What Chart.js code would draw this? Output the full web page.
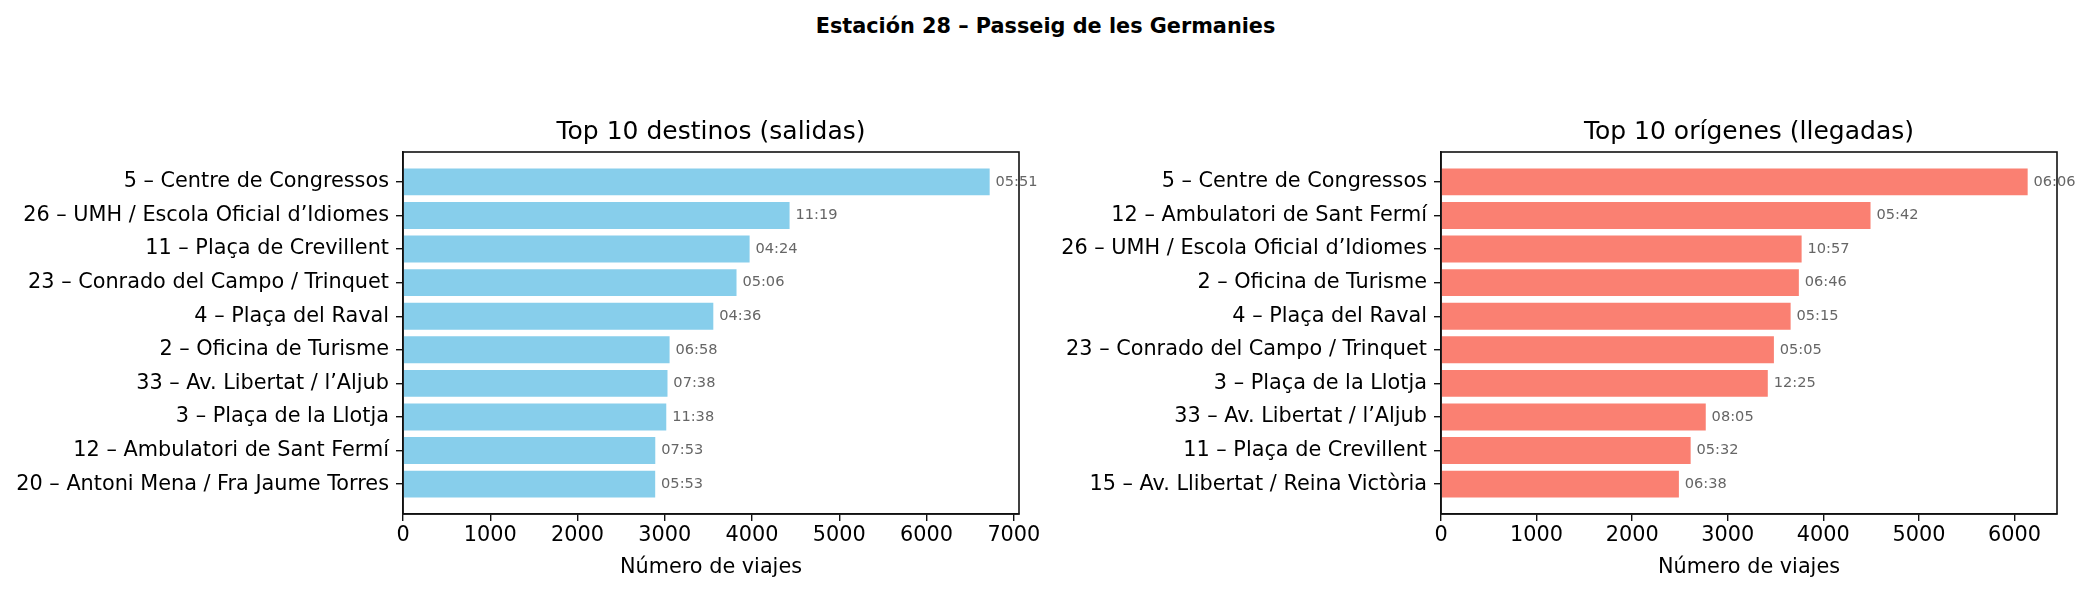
<!DOCTYPE html>
<html>
<head>
<meta charset="utf-8">
<script src="https://cdn.jsdelivr.net/npm/chart.js@4.4.1/dist/chart.umd.min.js"></script>
<style>
  body { margin: 0; background: #fff; }
  #wrap { position: relative; width: 2091px; height: 594px; overflow: hidden; }
  #suptitle { position: absolute; left: 0; width: 2091px; top: 14px; text-align: center;
    font: bold 20.8px 'DejaVu Sans'; color: #000; }
  canvas { position: absolute; top: 0; }
</style>
</head>
<body>
<div id="wrap">
  <div id="suptitle">Estación 28 – Passeig de les Germanies</div>
  <canvas id="leftChart" width="1045" height="594" style="left:0"></canvas>
  <canvas id="rightChart" width="1046" height="594" style="left:1045px"></canvas>
</div>
<script>
/* ── Data ── */
const destLabels = [
  '5 – Centre de Congressos',
  '26 – UMH / Escola Oficial d’Idiomes',
  '11 – Plaça de Crevillent',
  '23 – Conrado del Campo / Trinquet',
  '4 – Plaça del Raval',
  '2 – Oficina de Turisme',
  '33 – Av. Libertat / l’Aljub',
  '3 – Plaça de la Llotja',
  '12 – Ambulatori de Sant Fermí',
  '20 – Antoni Mena / Fra Jaume Torres'
];
const destTrips = [6723, 4430, 3972, 3822, 3556, 3055, 3031, 3017, 2891, 2890];
const destTimes = ['05:51', '11:19', '04:24', '05:06', '04:36', '06:58', '07:38', '11:38', '07:53', '05:53'];
const destTicks = [0, 1000, 2000, 3000, 4000, 5000, 6000, 7000];

const origLabels = [
  '5 – Centre de Congressos',
  '12 – Ambulatori de Sant Fermí',
  '26 – UMH / Escola Oficial d’Idiomes',
  '2 – Oficina de Turisme',
  '4 – Plaça del Raval',
  '23 – Conrado del Campo / Trinquet',
  '3 – Plaça de la Llotja',
  '33 – Av. Libertat / l’Aljub',
  '11 – Plaça de Crevillent',
  '15 – Av. Llibertat / Reina Victòria'
];
const origTrips = [6138, 4494, 3773, 3744, 3658, 3483, 3419, 2770, 2612, 2489];
const origTimes = ['06:06', '05:42', '10:57', '06:46', '05:15', '05:05', '12:25', '08:05', '05:32', '06:38'];
const origTicks = [0, 1000, 2000, 3000, 4000, 5000, 6000];

Chart.defaults.font.family = 'DejaVu Sans';
Chart.defaults.color = '#000';

/* ── Plugin: subplot title, axes frame, duration labels ── */
const decoPlugin = {
  id: 'deco',
  afterDatasetsDraw(chart, args, opts) {
    const { ctx, chartArea: a } = chart;
    const xs = chart.scales.x;
    const meta = chart.getDatasetMeta(0);
    const vals = chart.data.datasets[0].data.map(d => d.x);
    const off = Math.max(...vals) * 0.01;
    ctx.save();
    // duration labels next to each bar
    ctx.font = '14.6px "DejaVu Sans"';
    ctx.fillStyle = '#666';
    ctx.textAlign = 'left';
    ctx.textBaseline = 'middle';
    meta.data.forEach((bar, i) => {
      ctx.fillText(opts.times[i], xs.getPixelForValue(vals[i] + off), bar.y);
    });
    // frame
    ctx.strokeStyle = '#111';
    ctx.lineWidth = 1.6;
    ctx.strokeRect(a.left, a.top, a.right - a.left, a.bottom - a.top);
    // title
    ctx.font = '25px "DejaVu Sans"';
    ctx.fillStyle = '#000';
    ctx.textAlign = 'center';
    ctx.textBaseline = 'alphabetic';
    ctx.fillText(opts.title, (a.left + a.right) / 2, a.top - 13);
    ctx.restore();
  }
};

function buildChart(canvasId, title, labels, values, times, xTicks, color, yWidth, padRight) {
  const n = labels.length;
  const xMax = Math.max(...values) * 1.05;
  return new Chart(document.getElementById(canvasId), {
    type: 'bar',
    data: {
      datasets: [{
        data: values.map((v, i) => ({ x: v, y: i })),
        backgroundColor: color,
        borderWidth: 0,
        barPercentage: 0.8,
        categoryPercentage: 1
      }]
    },
    plugins: [decoPlugin],
    options: {
      indexAxis: 'y',
      responsive: false,
      animation: false,
      layout: { padding: { left: 0, right: padRight, top: 152, bottom: 0 } },
      plugins: {
        legend: { display: false },
        tooltip: { enabled: false },
        title: { display: false },
        deco: { times: times, title: title }
      },
      scales: {
        x: {
          type: 'linear', min: 0, max: xMax,
          afterFit: s => { s.height = 80; },
          afterBuildTicks: s => { s.ticks = xTicks.map(v => ({ value: v })); },
          border: { display: true, color: '#111', width: 1.6 },
          grid: { display: true, drawOnChartArea: false, drawTicks: true, tickLength: 7, color: '#111', lineWidth: 1.4 },
          ticks: { padding: 2, color: '#000', font: { size: 20.8 }, maxRotation: 0, autoSkip: false,
            callback: v => String(v) },
          title: { display: true, text: 'Número de viajes', color: '#000', font: { size: 20.8 }, padding: { top: 0, bottom: 14 } }
        },
        y: {
          type: 'linear', min: -0.89, max: n - 1 + 0.89, reverse: true, offset: false,
          afterFit: s => { s.width = yWidth; },
          afterBuildTicks: s => { s.ticks = labels.map((_, i) => ({ value: i })); },
          border: { display: true, color: '#111', width: 1.6 },
          grid: { display: true, offset: false, drawOnChartArea: false, drawTicks: true, tickLength: 7, color: '#111', lineWidth: 1.4 },
          ticks: { padding: 7, color: '#000', font: { size: 20.8 }, autoSkip: false,
            callback: v => labels[v] }
        }
      }
    }
  });
}

buildChart('leftChart', 'Top 10 destinos (salidas)', destLabels, destTrips, destTimes, destTicks, '#87CEEB', 403, 26);
buildChart('rightChart', 'Top 10 orígenes (llegadas)', origLabels, origTrips, origTimes, origTicks, '#FA8072', 396, 34);
</script>
</body>
</html>
